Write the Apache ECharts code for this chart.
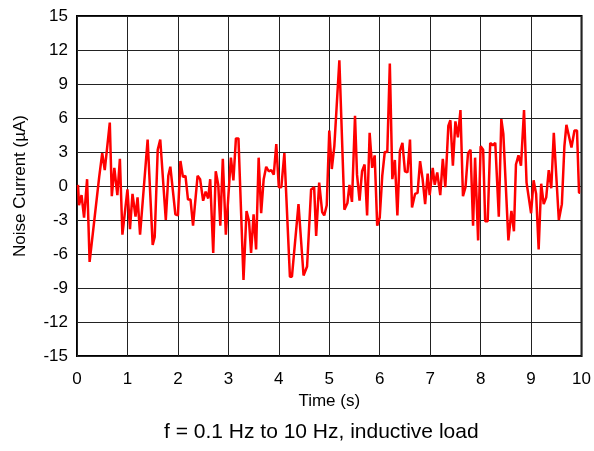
<!DOCTYPE html>
<html><head><meta charset="utf-8">
<script src="https://cdn.jsdelivr.net/npm/echarts@6/dist/echarts.min.js"></script>
<style>html,body{margin:0;padding:0;background:#fff}#c{width:594px;height:451px}</style>
</head><body><div id="c"></div>
<script>
var times = [0.02,0.04,0.09,0.14,0.2,0.25,0.44,0.5,0.55,0.65,0.69,0.74,0.8,0.85,0.9,1.0,1.05,1.1,1.16,1.2,1.25,1.4,1.5,1.54,1.6,1.65,1.76,1.81,1.85,1.95,2.0,2.05,2.1,2.15,2.2,2.25,2.3,2.39,2.44,2.5,2.55,2.6,2.64,2.7,2.75,2.8,2.84,2.89,2.95,3.05,3.1,3.15,3.2,3.3,3.36,3.41,3.45,3.5,3.55,3.6,3.65,3.7,3.75,3.8,3.85,3.9,3.95,4.0,4.05,4.11,4.22,4.26,4.39,4.49,4.56,4.64,4.7,4.74,4.8,4.86,4.9,4.95,5.0,5.05,5.1,5.2,5.3,5.36,5.4,5.45,5.51,5.55,5.6,5.65,5.7,5.75,5.8,5.85,5.9,5.95,6.0,6.05,6.1,6.15,6.2,6.25,6.3,6.35,6.4,6.45,6.5,6.55,6.6,6.64,6.7,6.75,6.8,6.85,6.9,6.95,6.99,7.05,7.09,7.14,7.2,7.25,7.3,7.36,7.4,7.45,7.5,7.55,7.6,7.65,7.7,7.75,7.8,7.85,7.89,7.95,8.0,8.05,8.09,8.14,8.19,8.24,8.29,8.36,8.41,8.45,8.55,8.61,8.66,8.7,8.75,8.8,8.86,8.91,9.0,9.05,9.1,9.15,9.2,9.25,9.3,9.35,9.4,9.45,9.55,9.61,9.66,9.7,9.8,9.86,9.91,9.95,9.97];
var current = [0.1,-1.7,-0.8,-2.8,0.6,-6.7,0.8,2.9,1.4,5.6,-0.9,1.6,-0.8,2.4,-4.3,-0.3,-3.8,-0.7,-2.7,-1.0,-4.3,4.1,-5.2,-4.5,3.2,4.1,-3.0,0.9,1.7,-2.5,-2.6,2.2,0.8,0.9,-1.2,-1.2,-3.5,0.9,0.6,-1.3,-0.5,-1.1,0.6,-5.9,1.3,0.1,-3.5,2.4,-4.3,2.5,0.5,4.2,4.2,-8.3,-2.2,-3.1,-5.9,-2.5,-5.6,2.5,-2.4,0.6,1.7,1.3,1.4,1.0,3.7,-0.1,-0.1,2.9,-8.0,-8.0,-1.6,-7.9,-7.1,-0.3,-0.1,-4.4,0.3,-2.3,-2.6,-1.7,4.9,1.5,3.5,11.1,-2.1,-1.5,0.1,-1.4,6.2,1.0,-1.3,1.3,1.9,-2.6,4.7,1.6,2.7,-3.5,-2.8,0.9,3.0,3.0,10.8,0.6,2.3,-2.6,3.1,3.8,1.3,1.2,4.1,-1.9,-0.7,-0.6,2.2,0.6,-1.6,1.1,-0.8,1.6,0.1,1.2,-0.8,2.4,-0.1,5.3,5.8,1.8,5.7,4.3,6.7,-0.9,-0.1,2.9,3.2,-3.5,2.5,-4.8,3.5,3.2,-3.1,-3.1,3.8,3.6,3.8,-2.7,5.9,4.6,-4.8,-2.2,-4.0,1.9,2.7,1.8,6.7,0.3,-2.4,0.5,-0.7,-5.6,0.2,-1.6,-1.0,1.4,-0.2,4.7,-3.0,-1.6,3.5,5.4,3.4,4.9,4.9,-0.6,-0.6];
var xTicks = [0,1,2,3,4,5,6,7,8,9,10];
var yTicks = [-15,-12,-9,-6,-3,0,3,6,9,12,15];
var xLabel = 'Time (s)';
var yLabel = 'Noise Current (\u00b5A)';
var caption = 'f = 0.1 Hz to 10 Hz, inductive load';

var data = times.map(function(t,i){return [t,current[i]];});
var chart = echarts.init(document.getElementById('c'));
var font = 'Arial, "Liberation Sans", sans-serif';
chart.setOption({
  animation:false,
  grid:{left:77,right:10,top:16,bottom:95,show:true,borderColor:'#000',borderWidth:2,backgroundColor:'transparent'},
  graphic:[{type:'text',left:164,top:422,style:{text:caption,font:'21px Arial, "Liberation Sans", sans-serif',fill:'#000'}}],
  xAxis:{type:'value',min:xTicks[0],max:xTicks[xTicks.length-1],interval:1,
    name:xLabel,nameLocation:'middle',nameGap:37,nameTextStyle:{fontFamily:font,fontSize:17,color:'#000'},
    axisLine:{show:false},axisTick:{show:false},
    axisLabel:{fontFamily:font,fontSize:17,color:'#000',margin:15},
    splitLine:{show:true,lineStyle:{color:'#222',width:1}}},
  yAxis:{type:'value',min:yTicks[0],max:yTicks[yTicks.length-1],interval:3,
    name:yLabel,nameLocation:'middle',nameGap:48,nameTextStyle:{fontFamily:font,fontSize:17,color:'#000'},
    axisLine:{show:false},axisTick:{show:false},
    axisLabel:{fontFamily:font,fontSize:17,color:'#000',margin:9},
    splitLine:{show:true,lineStyle:{color:'#222',width:1}}},
  series:[{type:'line',data:data,showSymbol:false,symbol:'none',
    lineStyle:{color:'#ff0000',width:2.5},itemStyle:{color:'#ff0000'}}]
});
</script></body></html>
